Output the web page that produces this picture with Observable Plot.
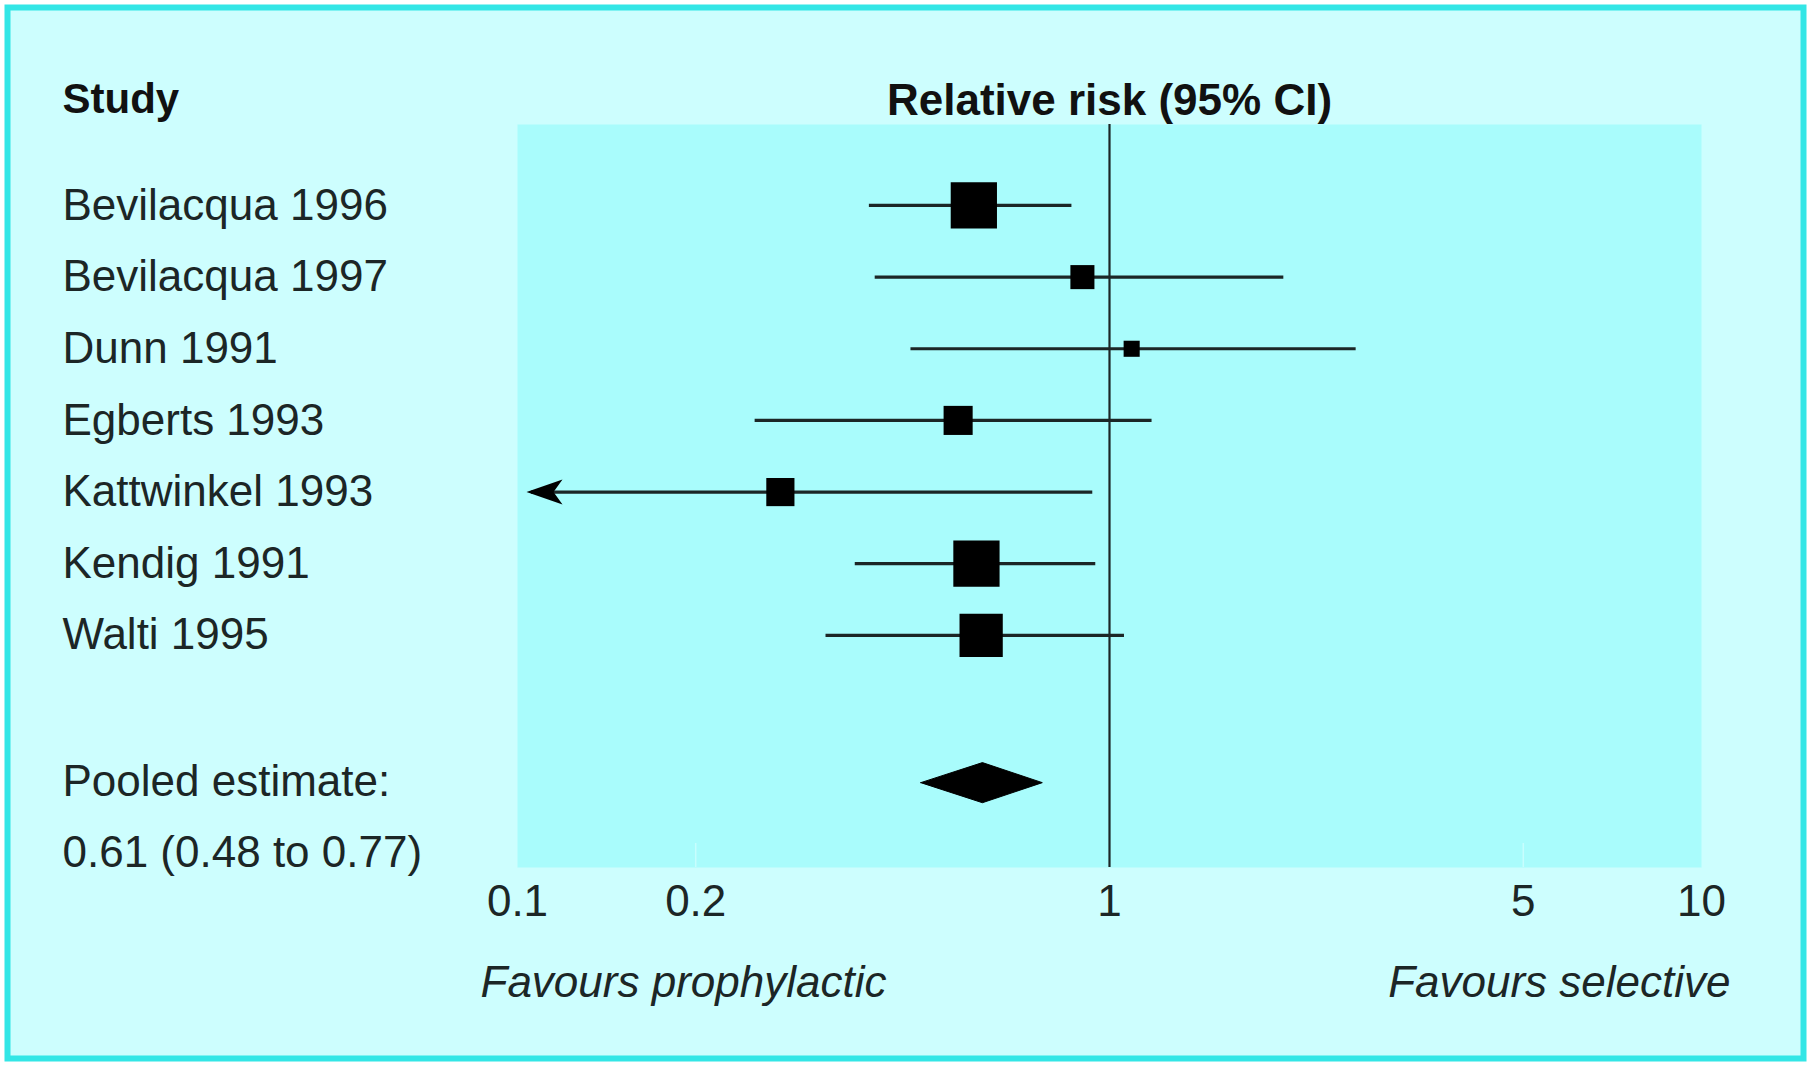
<!DOCTYPE html>
<html>
<head>
<meta charset="utf-8">
<script src="https://cdn.jsdelivr.net/npm/d3@7"></script>
<script src="https://cdn.jsdelivr.net/npm/@observablehq/plot@0.6"></script>
<style>
  html, body { margin: 0; padding: 0; background: #ffffff; }
  #chart svg { display: block; }
</style>
</head>
<body>
<div id="chart"></div>
<script>
// ---- data ----
const studies   = ["Bevilacqua 1996", "Bevilacqua 1997", "Dunn 1991", "Egberts 1993", "Kattwinkel 1993", "Kendig 1991", "Walti 1995"];
const rr        = [0.59, 0.90, 1.09, 0.555, 0.278, 0.596, 0.607];
const lower     = [0.393, 0.402, 0.462, 0.252, 0.1, 0.372, 0.332];   // Kattwinkel: below 0.1 (truncated)
const upper     = [0.864, 1.97, 2.61, 1.18, 0.937, 0.948, 1.06];
const truncated = [false, false, false, false, true, false, false];
const weight    = [24.8, 6.7, 3.0, 9.8, 9.2, 24.8, 21.7];
const pooled    = {est: 0.61, lo: 0.48, hi: 0.77};
const xTicks    = [0.1, 0.2, 1, 5, 10];
const faintTicks = [0.2, 5];
const pooledRow = 8;
const pooledTextRow = 9;

const rows = studies.map((s, i) => ({study: s, i, rr: rr[i], lo: lower[i], hi: upper[i], trunc: truncated[i], w: weight[i]}));
const half = 0.28;
const diamond = [
  {x: pooled.lo, y: pooledRow}, {x: pooled.est, y: pooledRow - half},
  {x: pooled.hi, y: pooledRow}, {x: pooled.est, y: pooledRow + half},
  {x: pooled.lo, y: pooledRow}
];

const arrowHead = {
  draw(ctx) {
    ctx.moveTo(0, 0);
    ctx.lineTo(36, -12.5);
    ctx.lineTo(27, 0);
    ctx.lineTo(36, 12.5);
    ctx.closePath();
  }
};

const FONT = "'Liberation Sans', Arial, Helvetica, sans-serif";
const ink = "#1c2626";

const chart = Plot.plot({
  width: 1812,
  height: 1067,
  marginLeft: 517,
  marginRight: 111,
  marginTop: 124,
  marginBottom: 200,
  style: {fontFamily: FONT, fontSize: "44px", background: "transparent", color: ink, overflow: "visible"},
  x: {type: "log", domain: [0.1, 10], axis: null},
  y: {domain: [-1.13, 9.24], reverse: true, axis: null},
  r: {domain: [0, 25], range: [0, 26.2]},
  marks: [
    // outer card with border
    Plot.frame({fill: "#cdfefe", stroke: "#33e6e6", strokeWidth: 6,
      insetTop: -117, insetLeft: -510, insetRight: -102, insetBottom: -191}),
    // plot panel
    Plot.frame({fill: "#a9fcfc", stroke: null}),
    // faint ticks inside panel
    Plot.axisX({ticks: faintTicks, tickSize: -24, tickFormat: () => "", stroke: "#d6ffff", strokeOpacity: 0.7, strokeWidth: 1.5, label: null}),
    // reference line at 1
    Plot.ruleX([1], {stroke: ink, strokeWidth: 2.2}),
    // CI lines
    Plot.ruleY(rows.filter(d => !d.trunc), {y: "i", x1: "lo", x2: "hi", stroke: ink, strokeWidth: 3.2}),
    Plot.ruleY(rows.filter(d => d.trunc), {y: "i", x1: "lo", x2: "hi", stroke: ink, strokeWidth: 3.2, insetLeft: 14}),
    Plot.dot(rows.filter(d => d.trunc), {x: "lo", y: "i", symbol: arrowHead, fill: "#000", stroke: null, r: 5, dx: 9}),
    // study squares
    Plot.dot(rows, {x: "rr", y: "i", r: "w", symbol: "square", fill: "#000", stroke: null}),
    // pooled diamond
    Plot.line(diamond, {x: "x", y: "y", fill: "#000", stroke: "#000", strokeWidth: 1, dy: 4}),
    // x tick labels
    Plot.axisX({ticks: xTicks, tickFormat: d => String(d), tickSize: 0, tickPadding: 17, fontSize: 44, fill: ink, label: null}),
    // headers
    Plot.text(["Study"], {frameAnchor: "top-left", dx: -455, dy: -41, textAnchor: "start", fontWeight: "bold", fontSize: 42, fill: "#111"}),
    Plot.text(["Relative risk (95% CI)"], {x: [1], frameAnchor: "top", dy: -41, textAnchor: "middle", fontWeight: "bold", fontSize: 44, fill: "#111"}),
    // study labels
    Plot.text(rows, {y: "i", text: "study", frameAnchor: "left", dx: -455, textAnchor: "start", fontSize: 44, fill: ink}),
    // pooled labels
    Plot.text(["Pooled estimate:"], {y: [pooledRow], frameAnchor: "left", dx: -455, dy: 3, textAnchor: "start", fontSize: 44, fill: ink}),
    Plot.text([`${pooled.est} (${pooled.lo} to ${pooled.hi})`], {y: [pooledTextRow], frameAnchor: "left", dx: -455, dy: 3, textAnchor: "start", fontSize: 44, fill: ink}),
    // favours labels
    Plot.text(["Favours prophylactic"], {frameAnchor: "bottom-left", dx: -37, dy: 129, textAnchor: "start", fontStyle: "italic", fontSize: 44, fill: ink}),
    Plot.text(["Favours selective"], {frameAnchor: "bottom-right", dx: 29, dy: 129, textAnchor: "end", fontStyle: "italic", fontSize: 44, fill: ink})
  ]
});

document.getElementById("chart").appendChild(chart);
</script>
</body>
</html>
